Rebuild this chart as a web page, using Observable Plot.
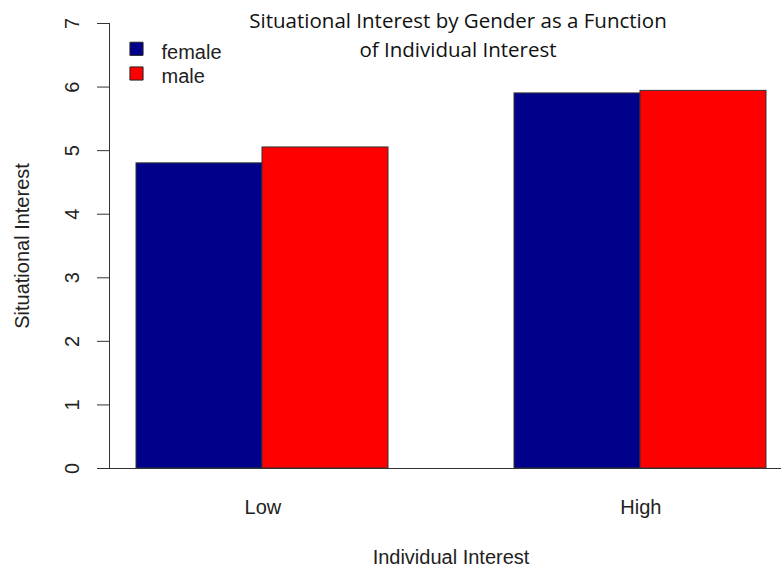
<!DOCTYPE html>
<html><head><meta charset="utf-8">
<script src="https://cdn.jsdelivr.net/npm/d3@7"></script>
<script src="https://cdn.jsdelivr.net/npm/@observablehq/plot@0.6"></script>
<style>
html,body{margin:0;padding:0;background:#fff;}
</style></head><body><div id="chart"></div>
<script>
const groups = ["Low", "High"];
const genders = ["female", "male"];
const femaleValues = [4.80, 5.90];
const maleValues = [5.05, 5.94];
const yTicks = [0, 1, 2, 3, 4, 5, 6, 7];
const colors = ["#00008B", "#FF0000"];
const titleText = "Situational Interest by Gender as a Function\nof Individual Interest";
const xTitle = "Individual Interest";
const yTitle = "Situational Interest";

const data = groups.flatMap((g, i) => [
  {group: g, gender: genders[0], value: femaleValues[i]},
  {group: g, gender: genders[1], value: maleValues[i]}
]).map(d => ({...d, key: d.group + "|" + d.gender}));
const xDomain = [];
groups.forEach((g, i) => { if (i > 0) xDomain.push("gap" + i); genders.forEach(s => xDomain.push(g + "|" + s)); });

const sans = "'Liberation Sans', Arial, sans-serif";
const ink = "#222";
const line = "#333";
const fs = 20;
const mid = {textAnchor: "middle", lineAnchor: "middle"};

const chart = Plot.plot({
  width: 781, height: 571,
  marginLeft: 109, marginRight: 0, marginTop: 23, marginBottom: 103,
  style: {fontFamily: sans, background: "#fff"},
  x: {type: "band", domain: xDomain, range: [134, 768], padding: 0, axis: null},
  y: {domain: [0, 7], axis: null},
  color: {domain: genders, range: colors},
  marks: [
    Plot.barY(data, {x: "key", y: "value", fill: "gender", stroke: line, strokeWidth: 1}),
    Plot.ruleY([0], {stroke: line}),
    Plot.frame({anchor: "left", stroke: line}),
    Plot.axisY({ticks: yTicks, tickSize: 12, tickFormat: () => "", stroke: line, label: null}),
    Plot.text(yTicks, {y: d => d, text: d => String(d), frameAnchor: "left", dx: -37, rotate: -90, fontSize: fs, fill: ink, ...mid}),
    Plot.text(groups, {x: g => g + "|" + genders[0], text: g => g, frameAnchor: "bottom", dx: 63.4, dy: 39, fontSize: fs, fill: ink, ...mid}),
    Plot.text([xTitle], {frameAnchor: "bottom", dx: 5.5, dy: 89.5, fontSize: fs, fill: ink, ...mid}),
    Plot.text([yTitle], {frameAnchor: "left", dx: -87, dy: 0, rotate: -90, fontSize: fs, fill: ink, ...mid}),
    Plot.text([titleText], {frameAnchor: "top", dx: 12.5, dy: 10, lineHeight: 1.4, fontSize: 20.5, fontFamily: "'Open Sans', sans-serif", fill: "#111", ...mid}),
    ...genders.map((g, i) => Plot.dot([g], {frameAnchor: "top-left", dx: 27, dy: 25.3 + 24.7 * i, symbol: "square", r: 7.4, fill: d => d, stroke: ink, strokeWidth: 1})),
    ...genders.map((g, i) => Plot.text([g], {frameAnchor: "top-left", dx: 52, dy: 28.6 + 24.7 * i, text: d => d, textAnchor: "start", lineAnchor: "middle", fontSize: fs, fill: ink}))
  ]
});
document.getElementById("chart").appendChild(chart);
</script>
</body></html>
